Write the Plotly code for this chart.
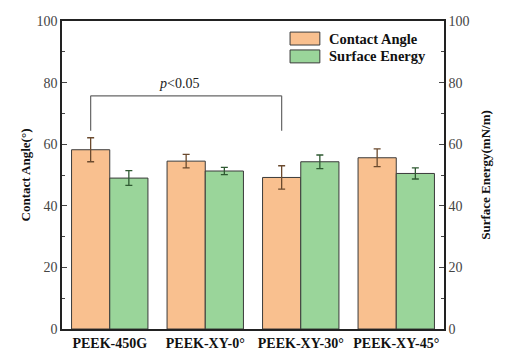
import plotly.graph_objects as go

categories = ["PEEK-450G", "PEEK-XY-0°", "PEEK-XY-30°", "PEEK-XY-45°"]
contact_angle = [58.2, 54.5, 49.2, 55.6]
contact_angle_err = [3.9, 2.2, 3.8, 2.9]
surface_energy = [49.0, 51.3, 54.3, 50.5]
surface_energy_err = [2.4, 1.2, 2.2, 1.8]
y_ticks = [0, 20, 40, 60, 80, 100]

FONT = "Liberation Serif"
ORANGE = "#F9C08F"
GREEN = "#9AD59A"
EDGE = "#3a3a3a"

fig = go.Figure()
fig.add_trace(go.Bar(
    x=categories, y=contact_angle, name="Contact Angle",
    width=0.4, offset=-0.4,
    marker=dict(color=ORANGE, line=dict(color=EDGE, width=1)),
    error_y=dict(type="data", array=contact_angle_err, color="#6b4a2e", thickness=1.3, width=3.5),
    showlegend=False,
))
fig.add_trace(go.Bar(
    x=categories, y=surface_energy, name="Surface Energy",
    width=0.4, offset=0.0, yaxis="y2",
    marker=dict(color=GREEN, line=dict(color=EDGE, width=1)),
    error_y=dict(type="data", array=surface_energy_err, color="#2f5a32", thickness=1.3, width=3.5),
    showlegend=False,
))

# significance bracket
bx0, bx1, ylow, yhigh = -0.2, 1.8, 64.4, 75.7
for (xa, ya, xb, yb) in [(bx0, ylow, bx0, yhigh), (bx0, yhigh, bx1, yhigh), (bx1, yhigh, bx1, ylow)]:
    fig.add_shape(type="line", xref="x", yref="y", x0=xa, y0=ya, x1=xb, y1=yb,
                  line=dict(color="#666666", width=1.2))
fig.add_annotation(x=0.72, y=79.6, xref="x", yref="y", text="<i>p</i>&lt;0.05",
                   showarrow=False, font=dict(family=FONT, size=14, color="#222"))

# legend drawn manually
leg = [("Contact Angle", ORANGE, 0.964, 0.922), ("Surface Energy", GREEN, 0.906, 0.864)]
for label, col, ytop, ybot in leg:
    fig.add_shape(type="rect", xref="paper", yref="paper", x0=0.597, x1=0.675, y0=ybot, y1=ytop,
                  fillcolor=col, line=dict(color=EDGE, width=1))
    fig.add_annotation(xref="paper", yref="paper", x=0.694, y=(ytop + ybot) / 2, xanchor="left",
                       yanchor="middle", text=f"<b>{label}</b>", showarrow=False,
                       font=dict(family=FONT, size=14.5, color="#111"))

axis_common = dict(range=[0, 100], tickvals=y_ticks, ticks="inside", ticklen=5, tickwidth=1,
                   showline=True, linecolor="#222", linewidth=1.5, showgrid=False, zeroline=False,
                   automargin=False,
                   tickfont=dict(family=FONT, size=14, color="#444"),
                   minor=dict(ticks="inside", ticklen=3, dtick=10, tickwidth=1))

fig.update_layout(
    width=511, height=355,
    margin=dict(l=62, r=67, t=21, b=26, autoexpand=False),
    plot_bgcolor="white", paper_bgcolor="white",
    font=dict(family=FONT),
    xaxis=dict(showline=True, linecolor="#222", linewidth=1.5, mirror=True, ticks="",
               range=[-0.5, 3.5], showgrid=False, automargin=False,
               tickfont=dict(family=FONT, size=14, color="#111"),
               tickprefix="<b>", ticksuffix="</b>"),
    yaxis=dict(**axis_common,
               title=dict(text="<b>Contact Angle(°)</b>", font=dict(family=FONT, size=13, color="#111"),
                          standoff=3)),
    yaxis2=dict(**axis_common, overlaying="y", side="right",
                title=dict(text="<b>Surface Energy(mN/m)</b>", font=dict(family=FONT, size=13, color="#111"),
                           standoff=12)),
    barmode="overlay",
)

fig.write_html("out.html", config={"displayModeBar": False},
               post_script="document.body.style.margin='0';document.body.style.padding='0';")
